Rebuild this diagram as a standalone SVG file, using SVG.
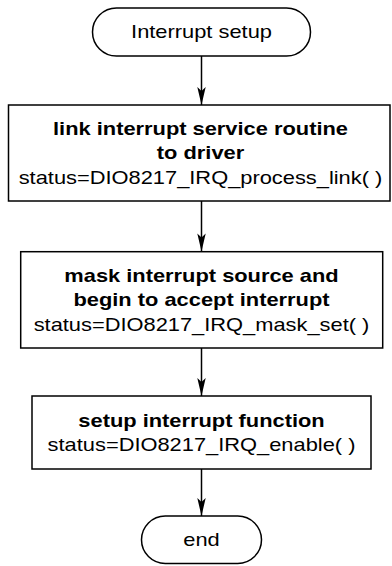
<svg xmlns="http://www.w3.org/2000/svg" width="392" height="566" viewBox="0 0 392 566">
  <style>
    .shape { fill: #ffffff; stroke: #000000; stroke-width: 1.5; }
    .edge { fill: none; stroke: #000000; stroke-width: 1.5; }
    .lbl { font-family: "Liberation Sans", Arial, Helvetica, sans-serif; font-size: 18.6px; fill: #000000; text-anchor: middle; }
    .b { font-weight: bold; }
  </style>
  <defs>
    <marker id="arrow" markerUnits="userSpaceOnUse" markerWidth="20" markerHeight="10" viewBox="-19 -5 20 10" refX="0" refY="0" orient="auto">
      <path d="M0,0 L-18,-4.2 L-14,0 L-18,4.2 Z" fill="#000000"/>
    </marker>
  </defs>
  <rect width="392" height="566" fill="#ffffff"/>

  <!-- connectors -->
  <g id="connectors">
    <line class="edge" x1="201.5" y1="56" x2="201.5" y2="105" marker-end="url(#arrow)"/>
    <line class="edge" x1="201.5" y1="201" x2="201.5" y2="251.5" marker-end="url(#arrow)"/>
    <line class="edge" x1="201.5" y1="348" x2="201.5" y2="396" marker-end="url(#arrow)"/>
    <line class="edge" x1="201.5" y1="469" x2="201.5" y2="516" marker-end="url(#arrow)"/>
  </g>

  <!-- start terminal -->
  <g id="start">
    <rect class="shape" x="92.5" y="8" width="218" height="48" rx="24" ry="24"/>
    <g transform="translate(201.5 0) scale(1.175 1)">
      <text class="lbl" x="0" y="38.5">Interrupt setup</text>
    </g>
  </g>

  <!-- step 1 -->
  <g id="link-isr">
    <rect class="shape" x="8.5" y="105" width="381.5" height="96"/>
    <g transform="translate(200.5 0) scale(1.175 1)">
      <text class="lbl b" x="0" y="135">link interrupt service routine</text>
      <text class="lbl b" x="0" y="159.5">to driver</text>
      <text class="lbl" x="0" y="184">status=DIO8217_IRQ_process_link( )</text>
    </g>
  </g>

  <!-- step 2 -->
  <g id="mask-set">
    <rect class="shape" x="20.7" y="251.7" width="362" height="96.3"/>
    <g transform="translate(201.5 0) scale(1.175 1)">
      <text class="lbl b" x="0" y="282">mask interrupt source and</text>
      <text class="lbl b" x="0" y="306.5">begin to accept interrupt</text>
      <text class="lbl" x="0" y="331">status=DIO8217_IRQ_mask_set( )</text>
    </g>
  </g>

  <!-- step 3 -->
  <g id="enable">
    <rect class="shape" x="32" y="396" width="339" height="73"/>
    <g transform="translate(201.5 0) scale(1.175 1)">
      <text class="lbl b" x="0" y="427">setup interrupt function</text>
      <text class="lbl" x="0" y="451.5">status=DIO8217_IRQ_enable( )</text>
    </g>
  </g>

  <!-- end terminal -->
  <g id="end">
    <rect class="shape" x="141.5" y="516" width="120" height="47.5" rx="23.75" ry="23.75"/>
    <g transform="translate(201.5 0) scale(1.175 1)">
      <text class="lbl" x="0" y="546">end</text>
    </g>
  </g>
</svg>
